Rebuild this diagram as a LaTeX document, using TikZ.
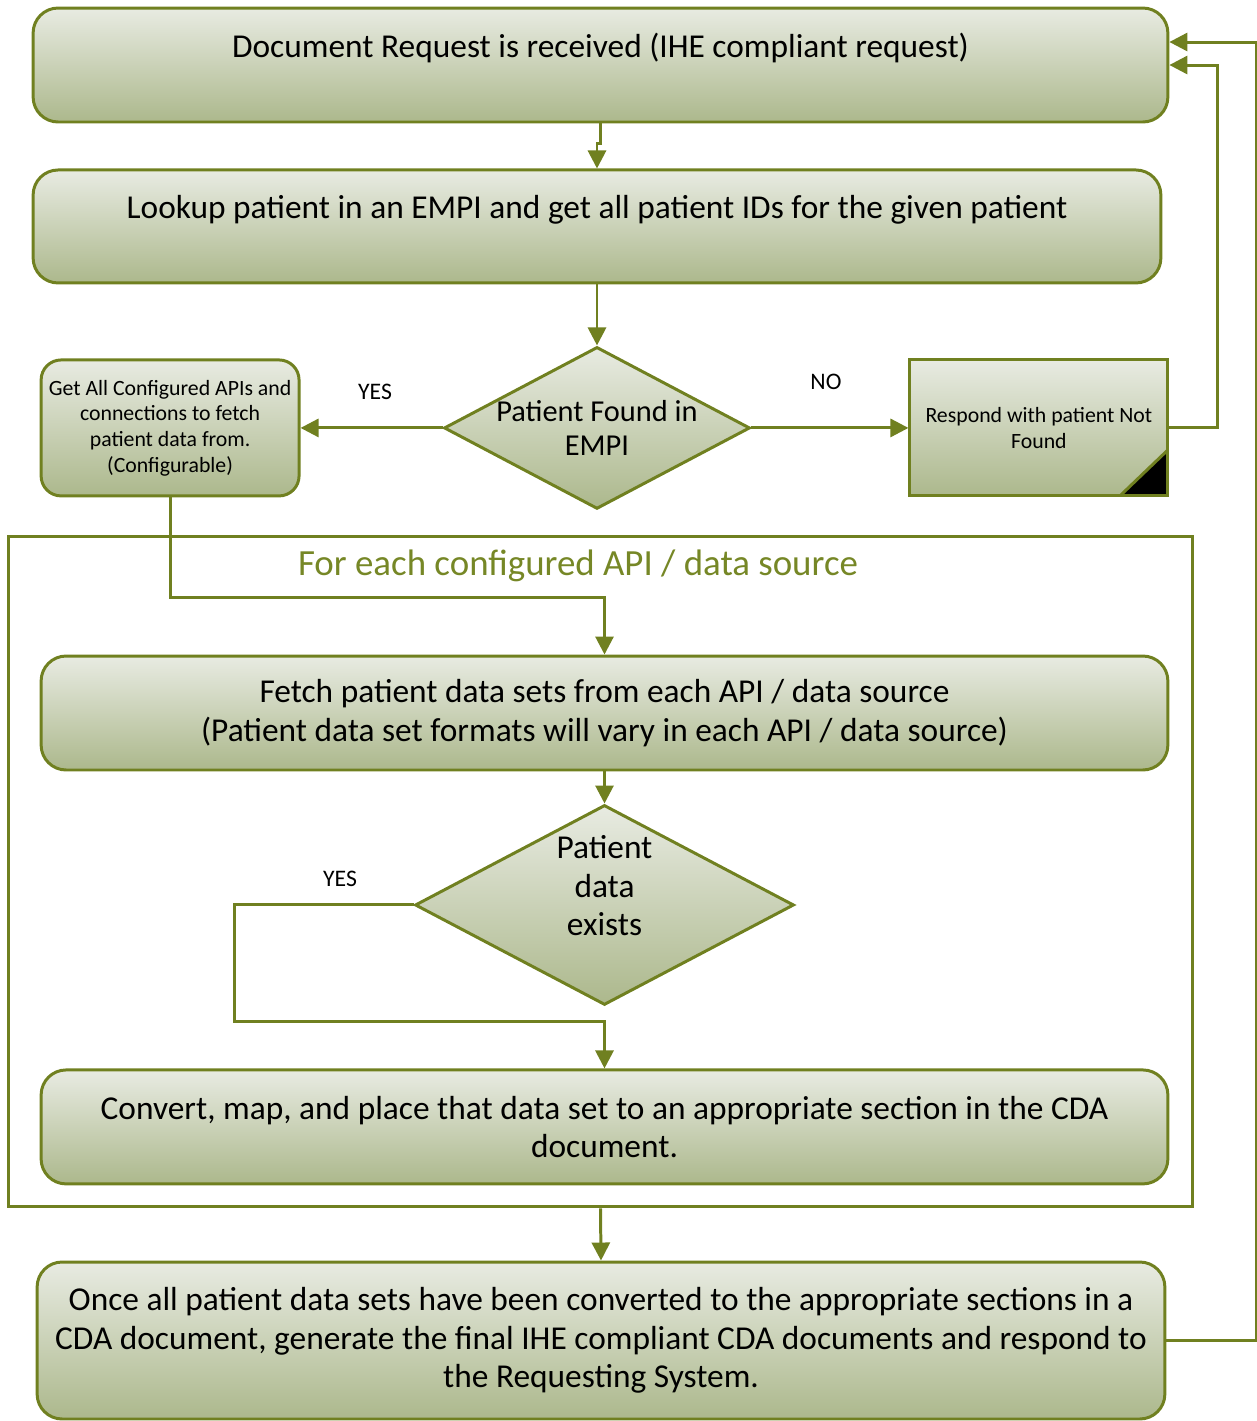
\documentclass[tikz,border=0pt]{standalone}
\usepackage{fontspec}
\setmainfont{Carlito}
\usetikzlibrary{positioning,shapes.geometric,arrows.meta}
\definecolor{flowgreen}{RGB}{112,128,32}
\definecolor{titlegreen}{RGB}{118,135,38}
\definecolor{shadetop}{RGB}{232,235,226}
\definecolor{shadebot}{RGB}{172,184,140}
\newcommand{\bigtext}{\fontsize{19}{21.9}\selectfont}
\newcommand{\midtext}{\fontsize{17.3}{19.9}\selectfont}
\newcommand{\smalltext}{\fontsize{12.4}{14.6}\selectfont}
\tikzset{
  procbox/.style={draw=flowgreen, line width=1.7pt, rounded corners=0.5cm,
    top color=shadetop, bottom color=shadebot, align=center, inner sep=0pt, font=\bigtext},
  notebox/.style={draw=flowgreen, line width=1.7pt, top color=shadetop, bottom color=shadebot,
    align=center, inner sep=0pt, font=\smalltext},
  decision/.style={diamond, draw=flowgreen, line width=1.7pt, top color=shadetop,
    bottom color=shadebot, align=center, inner sep=0pt, font=\bigtext},
  flow/.style={draw=flowgreen, line width=1.7pt, -{Triangle[length=0.36cm,width=0.36cm]}},
  answer/.style={font=\fontsize{13.5}{16}\selectfont},
}

\begin{document}
\begin{tikzpicture}[x=0.02cm, y=-0.02cm, node distance=2cm, on grid]
  \useasboundingbox (0,0) rectangle (1257,1421);
  % frame of the loop
  \node[draw=flowgreen, line width=1.7pt, minimum width=23.7cm, minimum height=13.42cm] (loop) at (600.5,871.5) {};
  \node[font=\fontsize{21}{25}\selectfont, text=titlegreen] (looptitle) at (578,566) {For each configured API / data source};

  \node[procbox, minimum width=22.7cm, minimum height=2.28cm] (req) at (600.5,65)
    {Document Request is received (IHE compliant request)\\ \mbox{}};
  \node[procbox, minimum width=22.56cm, minimum height=2.26cm] (lookup) [below=3.23cm of req, xshift=-0.07cm]
    {Lookup patient in an EMPI and get all patient IDs for the given patient\\ \mbox{}};
  \node[decision, font=\midtext, inner sep=-5pt, minimum width=6.12cm, minimum height=3.24cm, aspect=1.89] (found) [below=4.03cm of lookup]
    {Patient Found in\\EMPI};
  \node[procbox, rounded corners=0.4cm, font=\smalltext, minimum width=5.16cm, minimum height=2.72cm] (getapis) [left=8.54cm of found]
    {Get All Configured APIs and\\connections to fetch\\patient data from.\\(Configurable)};
  \node[notebox, minimum width=5.16cm, minimum height=2.72cm,
    path picture={\fill[black] (path picture bounding box.south east) -- ++(-0.96cm,0) -- ++(0.96cm,0.92cm) -- cycle;
      \draw[flowgreen, line width=1.7pt] (path picture bounding box.south east) ++(-0.96cm,0) -- ++(0.96cm,0.92cm);}]
    (respond) [right=8.84cm of found] {Respond with patient Not\\Found};

  \node[procbox, minimum width=22.54cm, minimum height=2.28cm] (fetch) at (604.5,713)
    {Fetch patient data sets from each API / data source\\(Patient data set formats will vary in each API / data source)};
  \node[decision, minimum width=7.58cm, minimum height=4cm, aspect=1.9] (exists) [below=3.84cm of fetch]
    {Patient\\data\\exists\\ \mbox{}};
  \node[procbox, minimum width=22.54cm, minimum height=2.28cm] (convert) [below=4.44cm of exists]
    {Convert, map, and place that data set to an appropriate section in the CDA\\document.};
  \node[procbox, minimum width=22.56cm, minimum height=3.14cm] (final) at (601,1340.5)
    {Once all patient data sets have been converted to the appropriate sections in a\\CDA document, generate the final IHE compliant CDA documents and respond to\\the Requesting System.};

  \node[answer] (yesfound) at (375,392) {YES};
  \node[answer] (nofound) at (826,382) {NO};
  \node[answer] (yesexists) at (340,879) {YES};

  \draw[flow] (req.south) -- ++(0,20) -| (lookup.north);
  \draw[flow] (lookup.south) -- (found.north);
  \draw[flow] (found.west) -- (getapis.east);
  \draw[flow] (found.east) -- (respond.west);
  \draw[flow] (respond.east) -- ++(48,0) |- (req.east);
  \draw[flow] (final.east) -- ++(90,0) |- ([yshift=0.46cm]req.east);
  \draw[flow] (getapis.south) -- ++(0,100) -| (fetch.north);
  \draw[flow] (fetch.south) -- (exists.north);
  \draw[flow] (exists.west) -- ++(-179,0) -- ++(0,117) -| (convert.north);
  \draw[flow] (loop.south) -- (final.north);
\end{tikzpicture}
\end{document}
